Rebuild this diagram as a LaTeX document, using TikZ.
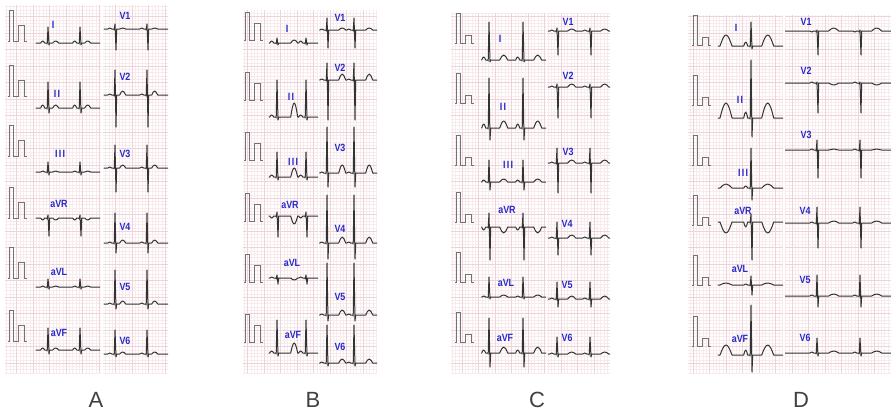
\documentclass[tikz,border=0pt]{standalone}
\usepackage{fontspec}
\setmainfont{Liberation Sans}
\usepackage{xcolor}
\usepackage{tikz}
\definecolor{leadblue}{RGB}{40,40,200}
\definecolor{gridmaj}{RGB}{238,212,217}
\definecolor{gridmin}{RGB}{248,235,238}
\newcommand{\stlen}{3}
\newcommand{\twid}{3}
\newcommand{\beat}[5]{-- ++(#5,0) sin ++(2,{-(#1)}) cos ++(2,{#1}) -- ++(2,0)
  -- ++(0.5,1) -- ++(0.8,{-(#2)-1}) -- ++(1,{(#2)+(#3)}) -- ++(0.7,{-(#3)})
  -- ++(\stlen,0) sin ++(\twid,{-(#4)}) cos ++(\twid,{#4}) -- ++(1,0)}
\newcommand{\lead}[5]{\draw[trace] (\bx,#1) \beat{#2}{#3}{#4}{#5}{\bfirst} \beat{#2}{#3}{#4}{#5}{\bgap} -- ++(12,0);}
\newcommand{\onebeat}[5]{\draw[trace] (\bx,#1) -- ++(2,0) sin ++(6,{-(#5)}) cos ++(6,{#5}) \beat{#2}{#3}{#4}{#5}{\bfirst} -- ++(12,0);}
\newcommand{\calpulse}[4]{(#1,#2) -- ++(1.5,0) -- ++(0,{-(#3)}) -- ++(4,0) -- ++(0,{#3}) -- ++(5,0) -- ++(0,{-(#4)}) -- ++(6,0) -- ++(0,{#4}) -- ++(2,0)}
\tikzset{trace/.style = {draw=black!80, line width=1pt, line join=round, line cap=round}}

\begin{document}
\begin{tikzpicture}[x=1pt,y=-1pt,
  calib/.style={draw=black!55,line width=0.6pt},
  lead/.style={text=leadblue,font=\bfseries\fontsize{10.5}{10.5}\selectfont,inner sep=0pt,xscale=0.85},
  panel/.style={text=black!75,font=\fontsize{22}{22}\selectfont,inner sep=0pt,anchor=base},
  minorgrid/.style={draw=gridmin,line width=0.25pt,step=3.3pt},
  majorgrid/.style={draw=gridmaj,line width=0.5pt,step=16.5pt}]
  \useasboundingbox (0,0) rectangle (891,410);
  \fill[white] (0,0) rectangle (891,410);

  \foreach \xa/\ya/\xb/\yb in {5/5/101/373, 103/5/168/373, 243/10/318/373, 319/10/377/373,
      451/13/546/373, 547/13/610/373, 688/15/783/373, 785/15/891/373}{
    \draw[minorgrid] (\xa,\ya) grid (\xb,\yb);
    \draw[majorgrid] (\xa,\ya) grid (\xb,\yb);
  }

  % A
  \foreach \yb in {41,96,156,218,278,341} \draw[calib] \calpulse{8}{\yb}{31}{16};
  \begin{scope}
    \clip (30,0) rectangle (100,410);
    \def\bx{36}\def\bfirst{4.7}\def\bgap{13}
    \lead{43}{2}{16}{2}{2}
    \lead{108}{3}{26}{5}{3}
    \lead{172}{1}{10}{3}{1}
    \lead{218}{-2}{3}{18}{-2}
    \lead{287}{1}{8}{2}{1}
    \lead{350}{2}{22}{4}{2}
  \end{scope}
  \begin{scope}
    \clip (103,0) rectangle (168,410);
    \def\bx{104}\def\bfirst{3.7}\def\bgap{13}
    \lead{29}{1}{5}{21}{1}
    \lead{95}{1}{25}{32}{4}
    \lead{168}{1}{23}{24}{3}
    \lead{243}{1}{30}{10}{3}
    \lead{304}{1}{34}{5}{3}
    \lead{354}{1}{24}{3}{2}
  \end{scope}
  \node[lead] (aI) at (53,25) {I};
  \node[lead] (aII) at (57,94) {I\kern1.5pt I};
  \node[lead] (aIII) at (60,154) {I\kern1.5pt I\kern1.5pt I};
  \node[lead] (aaVR) at (59,204) {aVR};
  \node[lead] (aaVL) at (59,272) {aVL};
  \node[lead] (aaVF) at (59,333) {aVF};
  \node[lead] (aV1) at (125,16) {V1};
  \node[lead] (aV2) at (125,77) {V2};
  \node[lead] (aV3) at (125,154) {V3};
  \node[lead] (aV4) at (125,227) {V4};
  \node[lead] (aV5) at (125,287) {V5};
  \node[lead] (aV6) at (125,341) {V6};

  % B
  \foreach \yb in {40,100,160,221,282,342} \draw[calib] \calpulse{244}{\yb}{28}{17};
  \begin{scope}
    \clip (265,0) rectangle (318,410);
    \def\stlen{12}\def\twid{3.5}
    \def\bx{269}\def\bfirst{0.7}\def\bgap{0}
    \lead{43}{2}{5}{2}{3}
    \lead{117}{2}{37}{3}{14}
    \lead{177}{2}{25}{3}{9}
    \lead{216}{-2}{4}{21}{-8}
    \lead{278}{1}{3}{6}{-2}
    \lead{353}{2}{33}{3}{10}
  \end{scope}
  \begin{scope}
    \clip (319,0) rectangle (377,410);
    \def\stlen{10}\def\twid{3.5}
    \def\bx{319.5}\def\bfirst{0.2}\def\bgap{0}
    \lead{30}{1}{12}{18}{2}
    \lead{80}{1}{17}{40}{6}
    \lead{173}{1}{46}{14}{8}
    \lead{243}{1}{48}{16}{6}
    \lead{315}{1}{52}{6}{5}
    \lead{363}{1}{38}{3}{4}
  \end{scope}
  \node[lead] (bI) at (287,29) {I};
  \node[lead] (bII) at (291,97) {I\kern1.5pt I};
  \node[lead] (bIII) at (293,162) {I\kern1.5pt I\kern1.5pt I};
  \node[lead] (baVR) at (290,205) {aVR};
  \node[lead] (baVL) at (292,263) {aVL};
  \node[lead] (baVF) at (293,335) {aVF};
  \node[lead] (bV1) at (340,18) {V1};
  \node[lead] (bV2) at (340,68) {V2};
  \node[lead] (bV3) at (340,148) {V3};
  \node[lead] (bV4) at (340,229) {V4};
  \node[lead] (bV5) at (340,297) {V5};
  \node[lead] (bV6) at (340,347) {V6};

  % C
  \foreach \yb in {43,103,165,222,282,342} \draw[calib] \calpulse{455}{\yb}{30}{8};
  \begin{scope}
    \clip (478,0) rectangle (546,410);
    \def\stlen{9}\def\twid{4}
    \def\bx{481.5}\def\bfirst{0.2}\def\bgap{7}
    \lead{60}{3}{38}{2}{5}
    \lead{128}{4}{50}{12}{7}
    \lead{182}{2}{22}{8}{3}
    \lead{227}{-3}{14}{33}{-6}
    \lead{297}{1}{20}{2}{2}
    \lead{353}{3}{35}{14}{6}
  \end{scope}
  \begin{scope}
    \clip (547,0) rectangle (610,410);
    \def\stlen{9}\def\twid{4}
    \def\bx{548}\def\bfirst{1.7}\def\bgap{6}
    \lead{31}{1}{3}{24}{2}
    \lead{87}{1}{3}{31}{3}
    \lead{163}{1}{15}{30}{3}
    \lead{238}{1}{16}{17}{3}
    \lead{299}{1}{17}{8}{3}
    \lead{354}{1}{17}{3}{2}
  \end{scope}
  \node[lead] (cI) at (500,39) {I};
  \node[lead] (cII) at (503,107) {I\kern1.5pt I};
  \node[lead] (cIII) at (508,165) {I\kern1.5pt I\kern1.5pt I};
  \node[lead] (caVR) at (507,210) {aVR};
  \node[lead] (caVL) at (506,283) {aVL};
  \node[lead] (caVF) at (505,338) {aVF};
  \node[lead] (cV1) at (568,22) {V1};
  \node[lead] (cV2) at (568,76) {V2};
  \node[lead] (cV3) at (568,152) {V3};
  \node[lead] (cV4) at (567,224) {V4};
  \node[lead] (cV5) at (567,285) {V5};
  \node[lead] (cV6) at (567,338) {V6};

  % D
  \foreach \yb in {45,105,165,225,285,346} \draw[calib] \calpulse{692}{\yb}{30}{8};
  \begin{scope}
    \clip (714,0) rectangle (783,410);
    \def\stlen{9}\def\twid{6}
    \def\bx{718}\def\bfirst{11.7}
    \onebeat{46}{4}{24}{3}{11}
    \onebeat{118}{6}{58}{19}{15}
    \onebeat{188}{2}{40}{12}{4}
    \onebeat{222}{-5}{8}{38}{-11}
    \onebeat{285}{1}{9}{10}{2}
    \onebeat{355}{5}{50}{17}{10}
  \end{scope}
  \begin{scope}
    \clip (785,0) rectangle (891,410);
    \def\stlen{10}\def\twid{5}
    \def\bx{785}\def\bfirst{24.7}\def\bgap{13}
    \lead{31}{-1}{1}{24}{3}
    \lead{83}{1}{1}{30}{-2}
    \lead{150}{1}{10}{28}{1}
    \lead{223}{1}{16}{25}{2}
    \lead{296}{1}{21}{11}{2}
    \lead{353}{1}{15}{3}{2}
  \end{scope}
  \node[lead] (dI) at (736,28) {I};
  \node[lead] (dII) at (740,100) {I\kern1.5pt I};
  \node[lead] (dIII) at (743,173) {I\kern1.5pt I\kern1.5pt I};
  \node[lead] (daVR) at (743,211) {aVR};
  \node[lead] (daVL) at (740,269) {aVL};
  \node[lead] (daVF) at (740,339) {aVF};
  \node[lead] (dV1) at (806,22) {V1};
  \node[lead] (dV2) at (806,71) {V2};
  \node[lead] (dV3) at (806,135) {V3};
  \node[lead] (dV4) at (805,211) {V4};
  \node[lead] (dV5) at (805,280) {V5};
  \node[lead] (dV6) at (805,338) {V6};

  \node[panel] (pA) at (96,407) {A};
  \node[panel] (pB) at (313,407) {B};
  \node[panel] (pC) at (537,407) {C};
  \node[panel] (pD) at (801,407) {D};
\end{tikzpicture}
\end{document}
